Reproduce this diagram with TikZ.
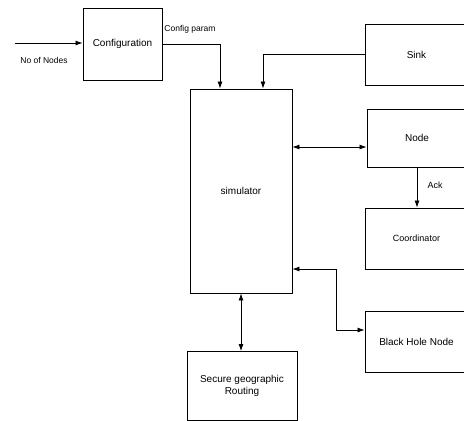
\documentclass[tikz,border=0pt]{standalone}
\usepackage{fontspec}
\setmainfont{Liberation Sans}
\usetikzlibrary{arrows.meta}

\begin{document}
\begin{tikzpicture}
      [%%%%%%%%%%%%%%%%%%%%%%%%%%%%%%
      x=1pt,y=-1pt,
      box/.style={rectangle,draw=black,line width=0.9pt,inner sep=2pt,align=center,font=\fontsize{10}{12}\selectfont},
      link/.style={line width=0.8pt,-{Latex[length=7pt,width=5pt]}},
      dlink/.style={line width=0.8pt,{Latex[length=7pt,width=5pt]}-{Latex[length=7pt,width=5pt]}},
      lbl/.style={font=\fontsize{8.5}{10}\selectfont,inner sep=0pt},
      ]%%%%%%%%%%%%%%%%%%%%%%%%%%%%%%
      \useasboundingbox (0,0) rectangle (464,421);

      \node[box,minimum width=79pt,minimum height=72pt] (config) at (122.5,44){Configuration};
      \node[box,minimum width=102pt,minimum height=204pt] (sim) at (241,191){simulator};
      \node[box,minimum width=103pt,minimum height=61pt] (sink) at (416.5,54.5){Sink};
      \node[box,minimum width=100pt,minimum height=58pt] (node) at (417,138){Node};
      \node[box,minimum width=103pt,minimum height=61pt,font=\fontsize{9}{11}\selectfont] (coord) at (416.5,238.5){Coordinator};
      \node[box,minimum width=103pt,minimum height=61pt] (bhn) at (416.5,341.5){Black Hole Node};
      \node[box,minimum width=110pt,minimum height=69pt] (sgr) at (242,386){Secure geographic\\Routing};

      \coordinate (in) at (15,43);
      \draw[link] (in) -- (in -| config.west);
      \node[lbl] (nonodes) at (44,60){No of Nodes};

      \draw[link] (config.east) -| ([xshift=-21pt]sim.north);
      \node[lbl] (cparam) at (190,29){Config param};
      \draw[link] (sink.west) -| ([xshift=22pt]sim.north);

      \draw[dlink] ([yshift=-9pt]node.west -| sim.east) -- ([yshift=-9pt]node.west);
      \draw[link] (node.south) -- (node.south |- coord.north);
      \node[lbl,font=\fontsize{9}{11}\selectfont] (ack) at (435,185){Ack};

      \draw[dlink] ([yshift=-78pt]sim.east) -- ++(44,0) |- ([yshift=11.5pt]bhn.west);
      \draw[dlink] (sim.south) -- (sim.south |- sgr.north);
    \end{tikzpicture}
\end{document}
